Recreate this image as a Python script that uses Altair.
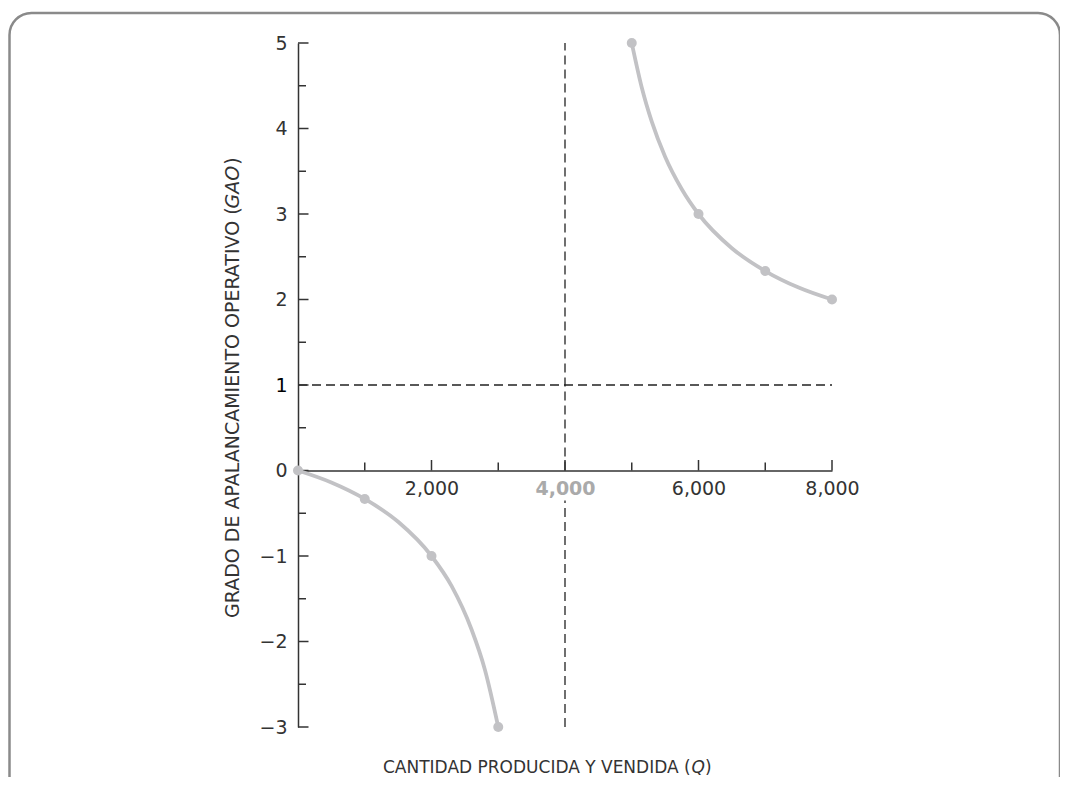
import altair as alt
import pandas as pd

# ---- data (marked points) ----
q_left = [0, 1000, 2000, 3000]
gao_left = [0, -0.333, -1, -3]
q_right = [5000, 6000, 7000, 8000]
gao_right = [5, 3, 2.333, 2]

# curve path (points along the drawn curves)
curve_q_left = [0, 500, 1000, 1500, 2000, 2300, 2600, 2800, 3000]
curve_g_left = [0, -0.14, -0.333, -0.6, -1, -1.35, -1.86, -2.33, -3]
curve_q_right = [5000, 5150, 5300, 5500, 5750, 6000, 6500, 7000, 7500, 8000]
curve_g_right = [5, 4.48, 4.08, 3.67, 3.29, 3, 2.6, 2.333, 2.14, 2]

x_labels = [2000, 4000, 6000, 8000]
x_minor = [1000, 3000, 5000, 7000]
y_major = [-3, -2, -1, 0, 1, 2, 3, 4, 5]
y_minor = [-2.5, -1.5, -0.5, 0.5, 1.5, 2.5, 3.5, 4.5]
breakeven_q = 4000
vline_from = [0, -3]
vline_to = [5, -0.35]
ref_gao = 1

FONT = "DejaVu Sans"
CURVE = "#c2c2c5"
INK = "#333333"

curve_df = pd.DataFrame({
    "Q": curve_q_left + curve_q_right,
    "GAO": curve_g_left + curve_g_right,
    "seg": ["a"] * len(curve_q_left) + ["b"] * len(curve_q_right),
})
pts_df = pd.DataFrame({"Q": q_left + q_right, "GAO": gao_left + gao_right})

xs = alt.Scale(domain=[0, 8000], nice=False)
ys = alt.Scale(domain=[-3, 5], nice=False)

x_axis = alt.Axis(
    values=x_labels, format=",d", ticks=False, tickSize=0, grid=False,
    offset=-256.5, domainColor=INK, domainWidth=1.5,
    labelFont=FONT, labelFontSize=19, labelPadding=9,
    labelColor={"condition": {"test": "datum.value == 4000", "value": "#aaaaaa"}, "value": INK},
    labelFontWeight={"condition": {"test": "datum.value == 4000", "value": "bold"}, "value": "normal"},
    labelFlush=False, labelOverlap=False, title=None,
)
y_axis = alt.Axis(
    values=y_major, format="d", ticks=False, tickSize=0, grid=False,
    domainColor=INK, domainWidth=1.5,
    labelFont=FONT, labelFontSize=19, labelPadding=11,
    labelColor={"condition": {"test": "datum.value == 1", "value": "#000000"}, "value": INK},
    labelFlush=False, labelOverlap=False, title=None,
)

one = pd.DataFrame({"k": [0]})

frame = alt.Chart(one).mark_rect(
    fillOpacity=0, stroke="#8a8a8a", strokeWidth=2.5, cornerRadius=22
).encode(
    x=alt.value(-288.5), x2=alt.value(762), y=alt.value(-30), y2=alt.value(760)
)

vline = alt.Chart(pd.DataFrame({
    "Q": [breakeven_q] * len(vline_from), "GAO": vline_from, "GAO2": vline_to
})).mark_rule(
    color="#222222", strokeWidth=1.3, strokeDash=[9, 5]
).encode(x=alt.X("Q:Q", scale=xs), y=alt.Y("GAO:Q", scale=ys), y2="GAO2:Q")

hline = alt.Chart(pd.DataFrame({"Q": [0], "Q2": [8000], "GAO": [ref_gao]})).mark_rule(
    color="#222222", strokeWidth=1.3, strokeDash=[9, 5]
).encode(x=alt.X("Q:Q", scale=xs), x2="Q2:Q", y=alt.Y("GAO:Q", scale=ys))

ymaj = alt.Chart(pd.DataFrame({"GAO": y_major})).mark_rule(color=INK, strokeWidth=1.5).encode(
    y=alt.Y("GAO:Q", scale=ys), x=alt.value(0), x2=alt.value(10.5)
)
ymin = alt.Chart(pd.DataFrame({"GAO": y_minor})).mark_rule(color=INK, strokeWidth=1.5).encode(
    y=alt.Y("GAO:Q", scale=ys), x=alt.value(0), x2=alt.value(8)
)
xmaj = alt.Chart(pd.DataFrame({"Q": x_labels})).mark_rule(color=INK, strokeWidth=1.5, y2Offset=-10.5).encode(
    x=alt.X("Q:Q", scale=xs), y=alt.datum(0, scale=ys), y2=alt.datum(0)
)
xmin = alt.Chart(pd.DataFrame({"Q": x_minor})).mark_rule(color=INK, strokeWidth=1.5, y2Offset=-8).encode(
    x=alt.X("Q:Q", scale=xs), y=alt.datum(0, scale=ys), y2=alt.datum(0)
)

curve = alt.Chart(curve_df).mark_line(
    interpolate="monotone", color=CURVE, strokeWidth=3.8
).encode(
    x=alt.X("Q:Q", scale=xs, axis=x_axis),
    y=alt.Y("GAO:Q", scale=ys, axis=y_axis),
    detail="seg:N",
)
points = alt.Chart(pts_df).mark_circle(size=100, color=CURVE, opacity=1).encode(
    x=alt.X("Q:Q", scale=xs), y=alt.Y("GAO:Q", scale=ys)
)

# axis titles (with italic parts)
YT = 19
YB = 575
yt1 = alt.Chart(one).mark_text(text="GRADO DE APALANCAMIENTO OPERATIVO (", font=FONT, fontSize=YT,
                              angle=270, align="left", baseline="middle", color=INK).encode(
    x=alt.value(-65), y=alt.value(YB))
yt2 = alt.Chart(one).mark_text(text="GAO", font=FONT, fontSize=YT, fontStyle="italic",
                              angle=270, align="left", baseline="middle", color=INK).encode(
    x=alt.value(-65), y=alt.value(YB - 21.55 * YT))
yt3 = alt.Chart(one).mark_text(text=")", font=FONT, fontSize=YT,
                              angle=270, align="left", baseline="middle", color=INK).encode(
    x=alt.value(-65), y=alt.value(YB - 23.85 * YT))

XT = 17
XB = 730
xt1 = alt.Chart(one).mark_text(text="CANTIDAD PRODUCIDA Y VENDIDA (", font=FONT, fontSize=XT,
                              align="left", baseline="alphabetic", color=INK).encode(
    x=alt.value(85), y=alt.value(XB))
xt2 = alt.Chart(one).mark_text(text="Q", font=FONT, fontSize=XT, fontStyle="italic",
                              align="left", baseline="alphabetic", color=INK).encode(
    x=alt.value(85 + 18.15 * XT), y=alt.value(XB))
xt3 = alt.Chart(one).mark_text(text=")", font=FONT, fontSize=XT,
                              align="left", baseline="alphabetic", color=INK).encode(
    x=alt.value(85 + 18.937 * XT), y=alt.value(XB))

chart = alt.layer(
    frame, vline, hline, ymaj, ymin, xmaj, xmin, curve, points,
    yt1, yt2, yt3, xt1, xt2, xt3,
).properties(
    width=534, height=684,
    autosize=alt.AutoSizeParams(type="none"),
    padding={"left": 290, "top": 35, "right": 228, "bottom": 50},
).configure_view(strokeWidth=0)

chart.save("out.html", embed_options={"renderer": "svg", "actions": False})
